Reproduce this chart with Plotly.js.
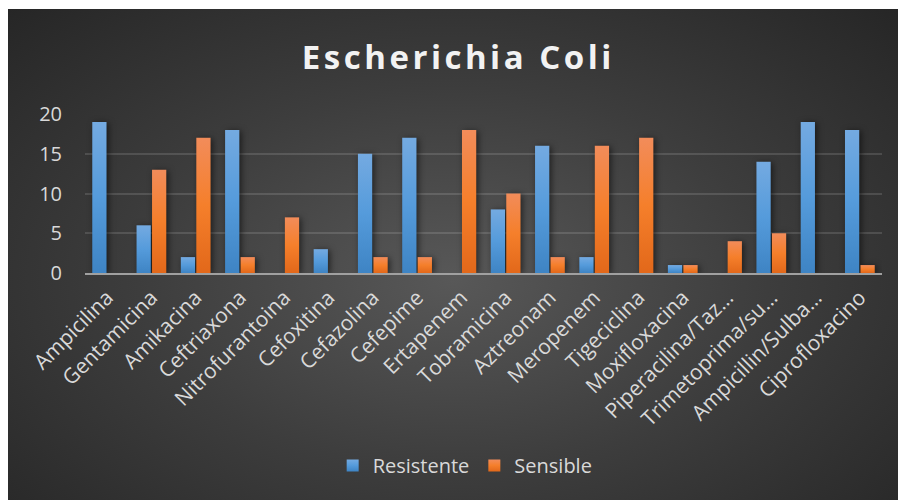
<!DOCTYPE html>
<html>
<head>
<meta charset="utf-8">
<script src="https://cdn.plot.ly/plotly-3.0.1.min.js"></script>
<style>
  html, body { margin: 0; padding: 0; background: #ffffff; }
  #chart {
    position: absolute; left: 8px; top: 9px; width: 890px; height: 491px;
    background: radial-gradient(ellipse farthest-corner at 50% 55%, #585858 0%, #3d3d3d 50%, #262626 100%);
  }
  #chart .gtitle { letter-spacing: 3.5px; }
  #chart .barlayer .trace:nth-child(1) path { fill: url(#gBlue) !important; }
  #chart .barlayer .trace:nth-child(2) path { fill: url(#gOrange) !important; }
  #chart .legend .traces:nth-child(1) .legendpoints path { fill: url(#gBlue) !important; }
  #chart .legend .traces:nth-child(2) .legendpoints path { fill: url(#gOrange) !important; }
  #chart .barlayer { filter: drop-shadow(2px 1px 3px rgba(0,0,0,0.55)); }
</style>
</head>
<body>
<svg width="0" height="0" style="position:absolute">
  <defs>
    <linearGradient id="gBlue" x1="0" y1="0" x2="0" y2="1">
      <stop offset="0" stop-color="#74aae1"/>
      <stop offset="0.5" stop-color="#559bdb"/>
      <stop offset="1" stop-color="#3e84c4"/>
    </linearGradient>
    <linearGradient id="gOrange" x1="0" y1="0" x2="0" y2="1">
      <stop offset="0" stop-color="#f28c5a"/>
      <stop offset="0.5" stop-color="#f57f2b"/>
      <stop offset="1" stop-color="#e2681a"/>
    </linearGradient>
  </defs>
</svg>
<div id="chart"></div>
<script>
  // Antibiotics tested
  const categories = [
    "Ampicilina", "Gentamicina", "Amikacina", "Ceftriaxona", "Nitrofurantoina",
    "Cefoxitina", "Cefazolina", "Cefepime", "Ertapenem", "Tobramicina",
    "Aztreonam", "Meropenem", "Tigeciclina", "Moxifloxacina",
    "Piperacilina/Taz…", "Trimetoprima/su…", "Ampicillin/Sulba…", "Ciprofloxacino"
  ];
  // Number of isolates per result
  const resistente = [19, 6, 2, 18, 0, 3, 15, 17, 0, 8, 16, 2, 0, 1, 0, 14, 19, 18];
  const sensible   = [0, 13, 17, 2, 7, 0, 2, 2, 18, 10, 2, 16, 17, 1, 4, 5, 0, 1];
  const yTicks = [0, 5, 10, 15, 20];

  const textColor = "#d9d9d9";
  const fontFamily = "'Open Sans', 'Noto Sans', sans-serif";

  const traces = [
    { type: "bar", name: "Resistente", x: categories, y: resistente,
      marker: { color: "#5b9bd5" }, hoverinfo: "x+y+name" },
    { type: "bar", name: "Sensible", x: categories, y: sensible,
      marker: { color: "#ed7d31" }, hoverinfo: "x+y+name" }
  ];

  const layout = {
    width: 890, height: 491,
    paper_bgcolor: "rgba(0,0,0,0)",
    plot_bgcolor: "rgba(0,0,0,0)",
    margin: { l: 77, r: 16, t: 105, b: 227 },
    font: { family: fontFamily, color: textColor, size: 20 },
    title: {
      text: "<b>Escherichia Coli</b>",
      font: { family: fontFamily, size: 33, color: "#f2f2f2" },
      x: 0.506, xref: "container", xanchor: "center",
      y: 1 - 48 / 491, yref: "container", yanchor: "middle"
    },
    barmode: "group",
    bargap: 0.3,
    bargroupgap: 0.08,
    xaxis: {
      type: "category",
      tickangle: -45,
      tickfont: { size: 21, color: textColor },
      showgrid: false,
      showline: true, linecolor: "#a0a0a0", linewidth: 2,
      ticks: "", ticklabelstandoff: 2
    },
    yaxis: {
      range: [0, 20],
      tickvals: yTicks,
      ticktext: yTicks.map(String),
      tickfont: { size: 20, color: textColor },
      showgrid: true, gridcolor: "rgba(255,255,255,0.13)", gridwidth: 2,
      zeroline: false, showline: false, ticks: "",
      ticklabelstandoff: 22
    },
    showlegend: true,
    legend: {
      orientation: "h",
      x: 0.477, xanchor: "center",
      y: -1.21, yanchor: "middle",
      font: { size: 20, color: textColor },
      bgcolor: "rgba(0,0,0,0)",
      itemwidth: 30
    }
  };

  Plotly.newPlot("chart", traces, layout, { displayModeBar: false, staticPlot: true });
</script>
</body>
</html>
